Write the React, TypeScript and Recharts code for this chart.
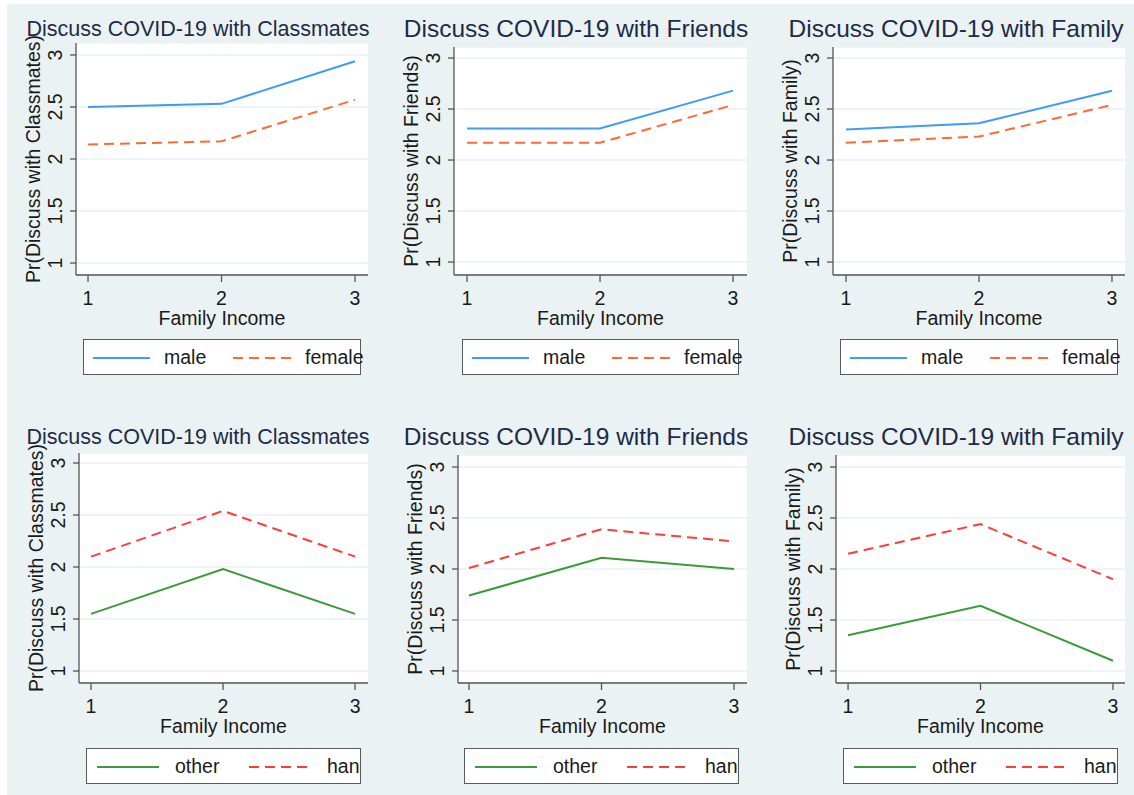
import React from "react";
import { LineChart, Line, XAxis, YAxis, CartesianGrid } from "recharts";

// ---------- data ----------
const incomeLevels = [1, 2, 3];
const yTicks = [1, 1.5, 2, 2.5, 3];

const classmatesMale = [2.5, 2.53, 2.94];
const classmatesFemale = [2.14, 2.17, 2.57];
const friendsMale = [2.31, 2.31, 2.68];
const friendsFemale = [2.17, 2.17, 2.54];
const familyMale = [2.3, 2.36, 2.68];
const familyFemale = [2.17, 2.23, 2.54];

const classmatesOther = [1.55, 1.98, 1.55];
const classmatesHan = [2.1, 2.54, 2.1];
const friendsOther = [1.74, 2.11, 2.0];
const friendsHan = [2.01, 2.39, 2.27];
const familyOther = [1.35, 1.64, 1.1];
const familyHan = [2.15, 2.44, 1.9];

const titles = [
  "Discuss COVID-19 with Classmates",
  "Discuss COVID-19 with Friends",
  "Discuss COVID-19 with Family",
];
const yTitles = [
  "Pr(Discuss with Classmates)",
  "Pr(Discuss with Friends)",
  "Pr(Discuss with Family)",
];
const xTitle = "Family Income";
const genderLabels = ["male", "female"];
const ethnicLabels = ["other", "han"];

// ---------- styles ----------
const FONT = "'Liberation Sans', Arial, 'DejaVu Sans', sans-serif";
const BG = "#eaf2f3";
const TEXT = "#1a1a1a";
const TITLE = "#1e2b48";
const AXIS = "#555555";

const genderStyles = [
  { color: "#3d9cf3", dash: undefined as string | undefined },
  { color: "#fd6a33", dash: "10 6" },
];
const ethnicStyles = [
  { color: "#3a9b3a", dash: undefined as string | undefined },
  { color: "#ff3c3c", dash: "10 6" },
];

type Rect = { l: number; t: number; r: number; b: number };
type Panel = {
  plot: Rect;
  xDom: [number, number];
  yDom: [number, number];
  titleX: number;
  titleY: number;
  titleSize: number;
  legend: Rect;
  legendOffsets: number[];
};

const topOffsets = [9, 66, 80, 149, 207, 221];
const botOffsets = [10, 72, 88, 162, 224, 240];

const layouts: Panel[] = [
  { plot: { l: 76, t: 43, r: 368, b: 275 }, xDom: [0.91, 3.097], yDom: [0.885, 3.115], titleX: 198, titleY: 29, titleSize: 21.5, legend: { l: 83, t: 339, r: 361, b: 375 }, legendOffsets: topOffsets },
  { plot: { l: 454, t: 47, r: 747, b: 275 }, xDom: [0.902, 3.105], yDom: [0.873, 3.108], titleX: 576, titleY: 29, titleSize: 24.5, legend: { l: 462, t: 339, r: 739, b: 375 }, legendOffsets: topOffsets },
  { plot: { l: 833, t: 47, r: 1125, b: 275 }, xDom: [0.902, 3.098], yDom: [0.873, 3.108], titleX: 956, titleY: 29, titleSize: 24.5, legend: { l: 840, t: 339, r: 1118, b: 375 }, legendOffsets: topOffsets },
  { plot: { l: 79, t: 453, r: 368, b: 683 }, xDom: [0.909, 3.098], yDom: [0.885, 3.096], titleX: 198, titleY: 437, titleSize: 21.5, legend: { l: 86, t: 748, r: 361, b: 784 }, legendOffsets: botOffsets },
  { plot: { l: 458, t: 455, r: 747, b: 683 }, xDom: [0.917, 3.098], yDom: [0.882, 3.118], titleX: 576, titleY: 437, titleSize: 24.5, legend: { l: 464, t: 748, r: 739, b: 784 }, legendOffsets: botOffsets },
  { plot: { l: 836, t: 455, r: 1125, b: 683 }, xDom: [0.909, 3.091], yDom: [0.882, 3.118], titleX: 956, titleY: 437, titleSize: 24.5, legend: { l: 843, t: 748, r: 1118, b: 784 }, legendOffsets: botOffsets },
];

const seriesSets = [
  [classmatesMale, classmatesFemale],
  [friendsMale, friendsFemale],
  [familyMale, familyFemale],
  [classmatesOther, classmatesHan],
  [friendsOther, friendsHan],
  [familyOther, familyHan],
];

const YTick = (props: any) => {
  const { x, y, payload } = props;
  const cx = x - 13;
  return (
    <text
      x={cx}
      y={y}
      transform={`rotate(-90 ${cx} ${y})`}
      textAnchor="middle"
      dominantBaseline="central"
      fill={TEXT}
      fontSize={19.5}
      fontFamily={FONT}
    >
      {payload.value}
    </text>
  );
};

const XTick = (props: any) => {
  const { x, y, payload } = props;
  return (
    <text
      x={x}
      y={y + 14}
      textAnchor="middle"
      dominantBaseline="central"
      fill={TEXT}
      fontSize={19.5}
      fontFamily={FONT}
    >
      {payload.value}
    </text>
  );
};

const YW = 60;
const XH = 60;
const MT = 2;
const MR = 2;

function PanelView({ idx }: { idx: number }) {
  const p = layouts[idx];
  const isTop = idx < 3;
  const names = isTop ? genderLabels : ethnicLabels;
  const styles = isTop ? genderStyles : ethnicStyles;
  const [s0, s1] = seriesSets[idx];
  const data = incomeLevels.map((x, i) => ({ x, a: s0[i], b: s1[i] }));
  const w = p.plot.r - p.plot.l + YW + MR;
  const h = p.plot.b - p.plot.t + MT + XH;
  const col = idx % 3;
  const o = p.legendOffsets;
  const lh = p.legend.b - p.legend.t;
  const midY = (p.plot.t + p.plot.b) / 2;
  return (
    <>
      <div
        style={{
          position: "absolute",
          left: p.titleX - 250,
          width: 500,
          top: p.titleY - 15,
          height: 30,
          lineHeight: "30px",
          textAlign: "center",
          fontFamily: FONT,
          fontSize: p.titleSize,
          color: TITLE,
          whiteSpace: "nowrap",
        }}
      >
        {titles[col]}
      </div>
      <div
        style={{
          position: "absolute",
          left: p.plot.l - YW,
          top: p.plot.t - MT,
          width: w,
          height: h,
        }}
      >
        <LineChart width={w} height={h} data={data} margin={{ top: MT, right: MR, bottom: 0, left: 0 }}>
          <CartesianGrid vertical={false} horizontal={true} stroke={BG} strokeWidth={1.5} fill="#ffffff" />
          <XAxis
            dataKey="x"
            type="number"
            domain={p.xDom}
            ticks={incomeLevels}
            allowDataOverflow
            height={XH}
            tickSize={7}
            tick={<XTick />}
            stroke={AXIS}
            strokeWidth={1.3}
            interval={0}
          />
          <YAxis
            type="number"
            domain={p.yDom}
            ticks={yTicks}
            allowDataOverflow
            width={YW}
            tickSize={6}
            tick={<YTick />}
            stroke={AXIS}
            strokeWidth={1.3}
            interval={0}
          />
          <Line
            type="linear"
            dataKey="a"
            stroke={styles[0].color}
            strokeWidth={2}
            dot={false}
            isAnimationActive={false}
          />
          <Line
            type="linear"
            dataKey="b"
            stroke={styles[1].color}
            strokeDasharray={styles[1].dash}
            strokeWidth={2}
            dot={false}
            isAnimationActive={false}
          />
        </LineChart>
      </div>
      <div
        style={{
          position: "absolute",
          left: p.plot.l - 43 - 150,
          top: midY - 15,
          width: 300,
          height: 30,
          lineHeight: "30px",
          textAlign: "center",
          transform: "rotate(-90deg)",
          fontFamily: FONT,
          fontSize: 19.5,
          color: TEXT,
          whiteSpace: "nowrap",
        }}
      >
        {yTitles[col]}
      </div>
      <div
        style={{
          position: "absolute",
          left: (p.plot.l + p.plot.r) / 2 - 150,
          top: p.plot.b + 43 - 12,
          width: 300,
          height: 24,
          lineHeight: "24px",
          textAlign: "center",
          fontFamily: FONT,
          fontSize: 19.5,
          color: TEXT,
        }}
      >
        {xTitle}
      </div>
      <div
        style={{
          position: "absolute",
          left: p.legend.l,
          top: p.legend.t,
          width: p.legend.r - p.legend.l,
          height: lh,
          boxSizing: "border-box",
          border: "1.5px solid #5a5a5a",
          background: "#ffffff",
          overflow: "visible",
          fontFamily: FONT,
          fontSize: 19.5,
          color: TEXT,
        }}
      >
        <svg style={{ position: "absolute", left: 0, top: 0, overflow: "visible" }} width={p.legend.r - p.legend.l} height={lh}>
          <line x1={o[0]} x2={o[1]} y1={lh / 2} y2={lh / 2} stroke={styles[0].color} strokeWidth={2} />
          <line x1={o[3]} x2={o[4]} y1={lh / 2} y2={lh / 2} stroke={styles[1].color} strokeWidth={2} strokeDasharray={styles[1].dash} />
        </svg>
        <span style={{ position: "absolute", left: o[2], top: 0, lineHeight: `${lh - 1}px`, whiteSpace: "nowrap" }}>{names[0]}</span>
        <span style={{ position: "absolute", left: o[5], top: 0, lineHeight: `${lh - 1}px`, whiteSpace: "nowrap" }}>{names[1]}</span>
      </div>
    </>
  );
}

export default function App() {
  return (
    <div
      style={{
        position: "absolute",
        left: 0,
        top: 0,
        width: 1134,
        height: 795,
        background: "#ffffff",
        overflow: "hidden",
      }}
    >
      <div style={{ position: "absolute", left: 7, top: 4, width: 1127, height: 791, background: BG }} />
      {layouts.map((_, i) => (
        <PanelView key={i} idx={i} />
      ))}
    </div>
  );
}
